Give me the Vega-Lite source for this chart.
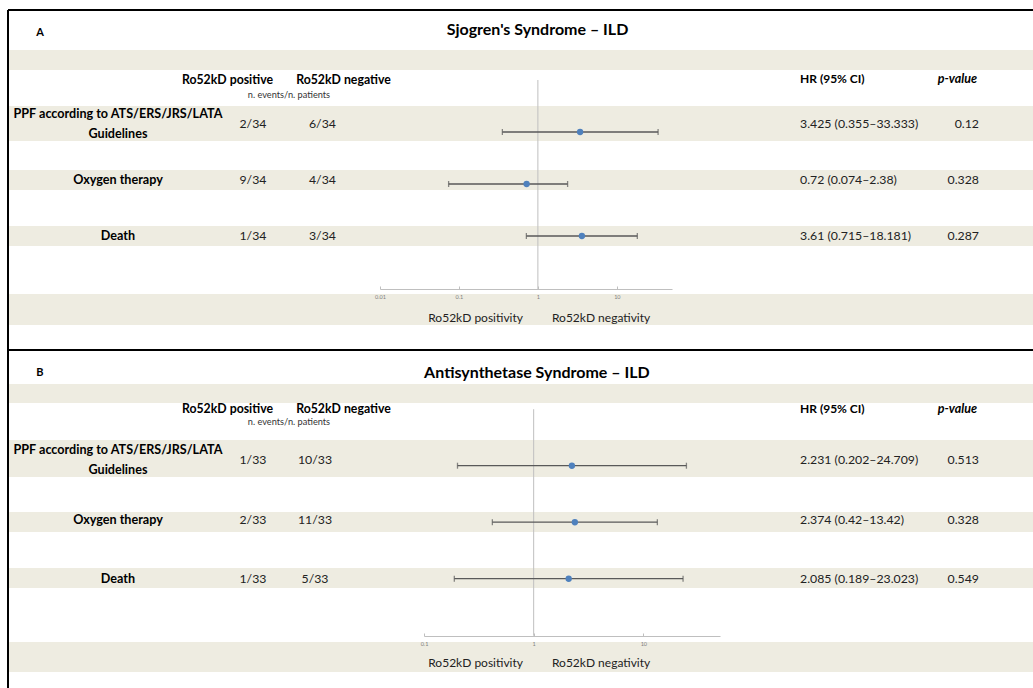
{
  "$schema": "https://vega.github.io/schema/vega-lite/v6.json",
  "padding": {"left": 7, "top": 9, "right": 0, "bottom": 0},
  "spacing": 0,
  "bounds": "flush",
  "config": {
    "view": {"stroke": null},
    "text": {"font": "Lato", "color": "#000000"},
    "axis": {"labelFont": "Lato"}
  },
  "datasets": {
    "sjogren": [
      {"row": 1, "outcome": "PPF according to ATS/ERS/JRS/LATA\nGuidelines", "pos": "2/34", "neg": "6/34", "hr": 3.425, "lo": 0.355, "hi": 33.333, "ci": "3.425 (0.355–33.333)", "p": 0.12},
      {"row": 2, "outcome": "Oxygen therapy", "pos": "9/34", "neg": "4/34", "hr": 0.72, "lo": 0.074, "hi": 2.38, "ci": "0.72 (0.074–2.38)", "p": 0.328},
      {"row": 3, "outcome": "Death", "pos": "1/34", "neg": "3/34", "hr": 3.61, "lo": 0.715, "hi": 18.181, "ci": "3.61 (0.715–18.181)", "p": 0.287}
    ],
    "asy": [
      {"row": 1, "outcome": "PPF according to ATS/ERS/JRS/LATA\nGuidelines", "pos": "1/33", "neg": "10/33", "hr": 2.231, "lo": 0.202, "hi": 24.709, "ci": "2.231 (0.202–24.709)", "p": 0.513},
      {"row": 2, "outcome": "Oxygen therapy", "pos": "2/33", "neg": "11/33", "hr": 2.374, "lo": 0.42, "hi": 13.42, "ci": "2.374 (0.42–13.42)", "p": 0.328},
      {"row": 3, "outcome": "Death", "pos": "1/33", "neg": "5/33", "hr": 2.085, "lo": 0.189, "hi": 23.023, "ci": "2.085 (0.189–23.023)", "p": 0.549}
    ]
  },
  "vconcat": [
    {
      "width": 1025,
      "height": 340,
      "layer": [
        {
          "layer": [
            {"data": {"values": [{}]}, "mark": {"type": "rect", "color": "#EEECE1"},
             "encoding": {
               "x": {"datum": 0, "type": "quantitative", "scale": {"domain": [0, 100], "nice": false, "zero": false}, "axis": null},
               "x2": {"datum": 100},
               "y": {"datum": -0.307, "type": "quantitative", "scale": {"domain": [-1.018, 5.027], "reverse": true, "nice": false, "zero": false}, "axis": null},
               "y2": {"datum": 0.049}}},
            {"data": {"values": [{}]}, "mark": {"type": "rect", "color": "#EEECE1"},
             "encoding": {"x": {"datum": 0, "type": "quantitative"}, "x2": {"datum": 100}, "y": {"datum": 0.689, "type": "quantitative"}, "y2": {"datum": 1.311}}},
            {"data": {"values": [{}]}, "mark": {"type": "rect", "color": "#EEECE1"},
             "encoding": {"x": {"datum": 0, "type": "quantitative"}, "x2": {"datum": 100}, "y": {"datum": 1.827, "type": "quantitative"}, "y2": {"datum": 2.182}}},
            {"data": {"values": [{}]}, "mark": {"type": "rect", "color": "#EEECE1"},
             "encoding": {"x": {"datum": 0, "type": "quantitative"}, "x2": {"datum": 100}, "y": {"datum": 2.822, "type": "quantitative"}, "y2": {"datum": 3.178}}},
            {"data": {"values": [{}]}, "mark": {"type": "rect", "color": "#EEECE1"},
             "encoding": {"x": {"datum": 0, "type": "quantitative"}, "x2": {"datum": 100}, "y": {"datum": 4.031, "type": "quantitative"}, "y2": {"datum": 4.582}}},
            {"data": {"values": [{}]}, "mark": {"type": "rule", "color": "#000000", "strokeWidth": 2},
             "encoding": {"x": {"datum": 0, "type": "quantitative"}, "y": {"datum": -1.018, "type": "quantitative"}, "y2": {"datum": 5.027}}},
            {"data": {"values": [{}]}, "mark": {"type": "rule", "color": "#000000", "strokeWidth": 2},
             "encoding": {"x": {"datum": 0, "type": "quantitative"}, "x2": {"datum": 100}, "y": {"datum": -1.018, "type": "quantitative"}}},
            {"data": {"values": [{}]}, "mark": {"type": "text", "text": "A", "fontWeight": "bold", "fontSize": 11},
             "encoding": {"x": {"datum": 3.12, "type": "quantitative"}, "y": {"datum": -0.61, "type": "quantitative"}}},
            {"data": {"values": [{}]}, "mark": {"type": "text", "text": "Sjogren's Syndrome – ILD", "fontWeight": "bold", "fontSize": 16},
             "encoding": {"x": {"datum": 51.66, "type": "quantitative"}, "y": {"datum": -0.67, "type": "quantitative"}}},
            {"data": {"values": [{}]}, "mark": {"type": "text", "text": "Ro52kD positive", "fontWeight": "bold", "fontSize": 12.3},
             "encoding": {"x": {"datum": 21.41, "type": "quantitative"}, "y": {"datum": 0.227, "type": "quantitative"}}},
            {"data": {"values": [{}]}, "mark": {"type": "text", "text": "Ro52kD negative", "fontWeight": "bold", "fontSize": 12.3},
             "encoding": {"x": {"datum": 32.73, "type": "quantitative"}, "y": {"datum": 0.227, "type": "quantitative"}}},
            {"data": {"values": [{}]}, "mark": {"type": "text", "text": "n. events/n. patients", "fontSize": 9.2, "color": "#333333"},
             "encoding": {"x": {"datum": 27.41, "type": "quantitative"}, "y": {"datum": 0.49, "type": "quantitative"}}},
            {"data": {"values": [{}]}, "mark": {"type": "text", "text": "HR (95% CI)", "fontWeight": "bold", "fontSize": 12, "align": "left"},
             "encoding": {"x": {"datum": 77.27, "type": "quantitative"}, "y": {"datum": 0.214, "type": "quantitative"}}},
            {"data": {"values": [{}]}, "mark": {"type": "text", "text": "p-value", "fontWeight": "bold", "fontStyle": "italic", "fontSize": 12.5, "align": "right"},
             "encoding": {"x": {"datum": 94.54, "type": "quantitative"}, "y": {"datum": 0.214, "type": "quantitative"}}},
            {"data": {"values": [{}]}, "mark": {"type": "text", "text": "Ro52kD positivity", "fontSize": 12, "align": "right", "color": "#222222"},
             "encoding": {"x": {"datum": 50.24, "type": "quantitative"}, "y": {"datum": 4.458, "type": "quantitative"}}},
            {"data": {"values": [{}]}, "mark": {"type": "text", "text": "Ro52kD negativity", "fontSize": 12, "align": "left", "color": "#222222"},
             "encoding": {"x": {"datum": 53.07, "type": "quantitative"}, "y": {"datum": 4.458, "type": "quantitative"}}},
            {"data": {"name": "sjogren"}, "transform": [{"filter": "indexof(datum.outcome, '\\n') >= 0"}],
             "mark": {"type": "text", "fontWeight": "bold", "fontSize": 12.6, "lineBreak": "\n", "lineHeight": 20, "dy": -10},
             "encoding": {"x": {"datum": 10.73, "type": "quantitative"}, "y": {"field": "row", "type": "quantitative"}, "text": {"field": "outcome", "type": "nominal"}}},
            {"data": {"name": "sjogren"}, "transform": [{"filter": "indexof(datum.outcome, '\\n') < 0"}],
             "mark": {"type": "text", "fontWeight": "bold", "fontSize": 12.6},
             "encoding": {"x": {"datum": 10.73, "type": "quantitative"}, "y": {"field": "row", "type": "quantitative"}, "text": {"field": "outcome", "type": "nominal"}}},
            {"data": {"name": "sjogren"}, "mark": {"type": "text", "fontSize": 12.3, "color": "#222222"},
             "encoding": {"x": {"datum": 23.9, "type": "quantitative"}, "y": {"field": "row", "type": "quantitative"}, "text": {"field": "pos", "type": "nominal"}}},
            {"data": {"name": "sjogren"}, "mark": {"type": "text", "fontSize": 12.3, "color": "#222222"},
             "encoding": {"x": {"datum": 30.68, "type": "quantitative"}, "y": {"field": "row", "type": "quantitative"}, "text": {"field": "neg", "type": "nominal"}}},
            {"data": {"name": "sjogren"}, "mark": {"type": "text", "fontSize": 12.3, "align": "left", "color": "#222222"},
             "encoding": {"x": {"datum": 77.27, "type": "quantitative"}, "y": {"field": "row", "type": "quantitative"}, "text": {"field": "ci", "type": "nominal"}}},
            {"data": {"name": "sjogren"}, "mark": {"type": "text", "fontSize": 12.3, "align": "right", "color": "#222222"},
             "encoding": {"x": {"datum": 94.73, "type": "quantitative"}, "y": {"field": "row", "type": "quantitative"}, "text": {"field": "p", "type": "nominal"}}}
          ]
        },
        {
          "data": {"name": "sjogren"},
          "layer": [
            {"data": {"values": [{}]}, "mark": {"type": "rule", "color": "#BFBFBF", "strokeWidth": 1},
             "encoding": {
               "x": {"datum": 1, "type": "quantitative",
                     "scale": {"type": "log", "domain": [0.01, 50], "range": [372, 664], "nice": false},
                     "axis": {"orient": "bottom", "offset": -61, "values": [0.01, 0.1, 1, 10], "format": "~g", "title": null, "grid": false, "zindex": 1,
                              "labelFontSize": 5.5, "labelColor": "#7F7F7F", "domainColor": "#BFBFBF", "tickColor": "#BFBFBF", "tickSize": -3,
                              "labelPadding": 8, "labelFlush": false, "labelOverlap": false}},
               "y": {"datum": 0, "type": "quantitative", "scale": {"domain": [-1.346, 5.192], "reverse": true, "nice": false, "zero": false}, "axis": null},
               "y2": {"datum": 4.02}}},
            {"mark": {"type": "rule", "color": "#595959", "strokeWidth": 1.3},
             "encoding": {"x": {"field": "lo", "type": "quantitative"}, "x2": {"field": "hi"}, "y": {"field": "row", "type": "quantitative"}}},
            {"mark": {"type": "tick", "orient": "vertical", "size": 6, "thickness": 1.3, "color": "#595959"},
             "encoding": {"x": {"field": "lo", "type": "quantitative"}, "y": {"field": "row", "type": "quantitative"}}},
            {"mark": {"type": "tick", "orient": "vertical", "size": 6, "thickness": 1.3, "color": "#595959"},
             "encoding": {"x": {"field": "hi", "type": "quantitative"}, "y": {"field": "row", "type": "quantitative"}}},
            {"mark": {"type": "circle", "size": 40, "color": "#4F81BD", "opacity": 1},
             "encoding": {"x": {"field": "hr", "type": "quantitative"}, "y": {"field": "row", "type": "quantitative"}}}
          ]
        }
      ],
      "resolve": {"scale": {"x": "independent", "y": "independent"}}
    },
    {
      "width": 1025,
      "height": 338,
      "layer": [
        {
          "layer": [
            {"data": {"values": [{}]}, "mark": {"type": "rect", "color": "#EEECE1"},
             "encoding": {
               "x": {"datum": 0, "type": "quantitative", "scale": {"domain": [0, 100], "nice": false, "zero": false}, "axis": null},
               "x2": {"datum": 100},
               "y": {"datum": -0.268, "type": "quantitative", "scale": {"domain": [-0.837, 4.82], "reverse": true, "nice": false, "zero": false}, "axis": null},
               "y2": {"datum": 0.05}}},
            {"data": {"values": [{}]}, "mark": {"type": "rect", "color": "#EEECE1"},
             "encoding": {"x": {"datum": 0, "type": "quantitative"}, "x2": {"datum": 100}, "y": {"datum": 0.669, "type": "quantitative"}, "y2": {"datum": 1.289}}},
            {"data": {"values": [{}]}, "mark": {"type": "rect", "color": "#EEECE1"},
             "encoding": {"x": {"datum": 0, "type": "quantitative"}, "x2": {"datum": 100}, "y": {"datum": 1.874, "type": "quantitative"}, "y2": {"datum": 2.209}}},
            {"data": {"values": [{}]}, "mark": {"type": "rect", "color": "#EEECE1"},
             "encoding": {"x": {"datum": 0, "type": "quantitative"}, "x2": {"datum": 100}, "y": {"datum": 2.812, "type": "quantitative"}, "y2": {"datum": 3.147}}},
            {"data": {"values": [{}]}, "mark": {"type": "rect", "color": "#EEECE1"},
             "encoding": {"x": {"datum": 0, "type": "quantitative"}, "x2": {"datum": 100}, "y": {"datum": 4.05, "type": "quantitative"}, "y2": {"datum": 4.552}}},
            {"data": {"values": [{}]}, "mark": {"type": "rule", "color": "#000000", "strokeWidth": 2},
             "encoding": {"x": {"datum": 0, "type": "quantitative"}, "y": {"datum": -0.837, "type": "quantitative"}, "y2": {"datum": 4.82}}},
            {"data": {"values": [{}]}, "mark": {"type": "rule", "color": "#000000", "strokeWidth": 2},
             "encoding": {"x": {"datum": 0, "type": "quantitative"}, "x2": {"datum": 100}, "y": {"datum": -0.837, "type": "quantitative"}}},
            {"data": {"values": [{}]}, "mark": {"type": "text", "text": "B", "fontWeight": "bold", "fontSize": 11},
             "encoding": {"x": {"datum": 3.12, "type": "quantitative"}, "y": {"datum": -0.452, "type": "quantitative"}}},
            {"data": {"values": [{}]}, "mark": {"type": "text", "text": "Antisynthetase Syndrome – ILD", "fontWeight": "bold", "fontSize": 16},
             "encoding": {"x": {"datum": 51.6, "type": "quantitative"}, "y": {"datum": -0.452, "type": "quantitative"}}},
            {"data": {"values": [{}]}, "mark": {"type": "text", "text": "Ro52kD positive", "fontWeight": "bold", "fontSize": 12.3},
             "encoding": {"x": {"datum": 21.41, "type": "quantitative"}, "y": {"datum": 0.15, "type": "quantitative"}}},
            {"data": {"values": [{}]}, "mark": {"type": "text", "text": "Ro52kD negative", "fontWeight": "bold", "fontSize": 12.3},
             "encoding": {"x": {"datum": 32.73, "type": "quantitative"}, "y": {"datum": 0.15, "type": "quantitative"}}},
            {"data": {"values": [{}]}, "mark": {"type": "text", "text": "n. events/n. patients", "fontSize": 9.2, "color": "#333333"},
             "encoding": {"x": {"datum": 27.41, "type": "quantitative"}, "y": {"datum": 0.37, "type": "quantitative"}}},
            {"data": {"values": [{}]}, "mark": {"type": "text", "text": "HR (95% CI)", "fontWeight": "bold", "fontSize": 12, "align": "left"},
             "encoding": {"x": {"datum": 77.27, "type": "quantitative"}, "y": {"datum": 0.15, "type": "quantitative"}}},
            {"data": {"values": [{}]}, "mark": {"type": "text", "text": "p-value", "fontWeight": "bold", "fontStyle": "italic", "fontSize": 12.5, "align": "right"},
             "encoding": {"x": {"datum": 94.54, "type": "quantitative"}, "y": {"datum": 0.15, "type": "quantitative"}}},
            {"data": {"values": [{}]}, "mark": {"type": "text", "text": "Ro52kD positivity", "fontSize": 12, "align": "right", "color": "#222222"},
             "encoding": {"x": {"datum": 50.24, "type": "quantitative"}, "y": {"datum": 4.402, "type": "quantitative"}}},
            {"data": {"values": [{}]}, "mark": {"type": "text", "text": "Ro52kD negativity", "fontSize": 12, "align": "left", "color": "#222222"},
             "encoding": {"x": {"datum": 53.07, "type": "quantitative"}, "y": {"datum": 4.402, "type": "quantitative"}}},
            {"data": {"name": "asy"}, "transform": [{"filter": "indexof(datum.outcome, '\\n') >= 0"}],
             "mark": {"type": "text", "fontWeight": "bold", "fontSize": 12.6, "lineBreak": "\n", "lineHeight": 20, "dy": -10},
             "encoding": {"x": {"datum": 10.73, "type": "quantitative"}, "y": {"field": "row", "type": "quantitative"}, "text": {"field": "outcome", "type": "nominal"}}},
            {"data": {"name": "asy"}, "transform": [{"filter": "indexof(datum.outcome, '\\n') < 0"}],
             "mark": {"type": "text", "fontWeight": "bold", "fontSize": 12.6},
             "encoding": {"x": {"datum": 10.73, "type": "quantitative"}, "y": {"field": "row", "type": "quantitative"}, "text": {"field": "outcome", "type": "nominal"}}},
            {"data": {"name": "asy"}, "mark": {"type": "text", "fontSize": 12.3, "color": "#222222"},
             "encoding": {"x": {"datum": 23.9, "type": "quantitative"}, "y": {"field": "row", "type": "quantitative"}, "text": {"field": "pos", "type": "nominal"}}},
            {"data": {"name": "asy"}, "mark": {"type": "text", "fontSize": 12.3, "color": "#222222"},
             "encoding": {"x": {"datum": 29.95, "type": "quantitative"}, "y": {"field": "row", "type": "quantitative"}, "text": {"field": "neg", "type": "nominal"}}},
            {"data": {"name": "asy"}, "mark": {"type": "text", "fontSize": 12.3, "align": "left", "color": "#222222"},
             "encoding": {"x": {"datum": 77.27, "type": "quantitative"}, "y": {"field": "row", "type": "quantitative"}, "text": {"field": "ci", "type": "nominal"}}},
            {"data": {"name": "asy"}, "mark": {"type": "text", "fontSize": 12.3, "align": "right", "color": "#222222"},
             "encoding": {"x": {"datum": 94.73, "type": "quantitative"}, "y": {"field": "row", "type": "quantitative"}, "text": {"field": "p", "type": "nominal"}}}
          ]
        },
        {
          "data": {"name": "asy"},
          "layer": [
            {"data": {"values": [{}]}, "mark": {"type": "rule", "color": "#BFBFBF", "strokeWidth": 1},
             "encoding": {
               "x": {"datum": 1, "type": "quantitative",
                     "scale": {"type": "log", "domain": [0.1, 50], "range": [416, 712], "nice": false},
                     "axis": {"orient": "bottom", "offset": -52, "values": [0.1, 1, 10], "format": "~g", "title": null, "grid": false, "zindex": 1,
                              "labelFontSize": 5.5, "labelColor": "#7F7F7F", "domainColor": "#BFBFBF", "tickColor": "#BFBFBF", "tickSize": -3,
                              "labelPadding": 8, "labelFlush": false, "labelOverlap": false}},
               "y": {"datum": 0, "type": "quantitative", "scale": {"domain": [-1.048, 4.934], "reverse": true, "nice": false, "zero": false}, "axis": null},
               "y2": {"datum": 4.01}}},
            {"mark": {"type": "rule", "color": "#595959", "strokeWidth": 1.3},
             "encoding": {"x": {"field": "lo", "type": "quantitative"}, "x2": {"field": "hi"}, "y": {"field": "row", "type": "quantitative"}}},
            {"mark": {"type": "tick", "orient": "vertical", "size": 6, "thickness": 1.3, "color": "#595959"},
             "encoding": {"x": {"field": "lo", "type": "quantitative"}, "y": {"field": "row", "type": "quantitative"}}},
            {"mark": {"type": "tick", "orient": "vertical", "size": 6, "thickness": 1.3, "color": "#595959"},
             "encoding": {"x": {"field": "hi", "type": "quantitative"}, "y": {"field": "row", "type": "quantitative"}}},
            {"mark": {"type": "circle", "size": 40, "color": "#4F81BD", "opacity": 1},
             "encoding": {"x": {"field": "hr", "type": "quantitative"}, "y": {"field": "row", "type": "quantitative"}}}
          ]
        }
      ],
      "resolve": {"scale": {"x": "independent", "y": "independent"}}
    }
  ]
}
